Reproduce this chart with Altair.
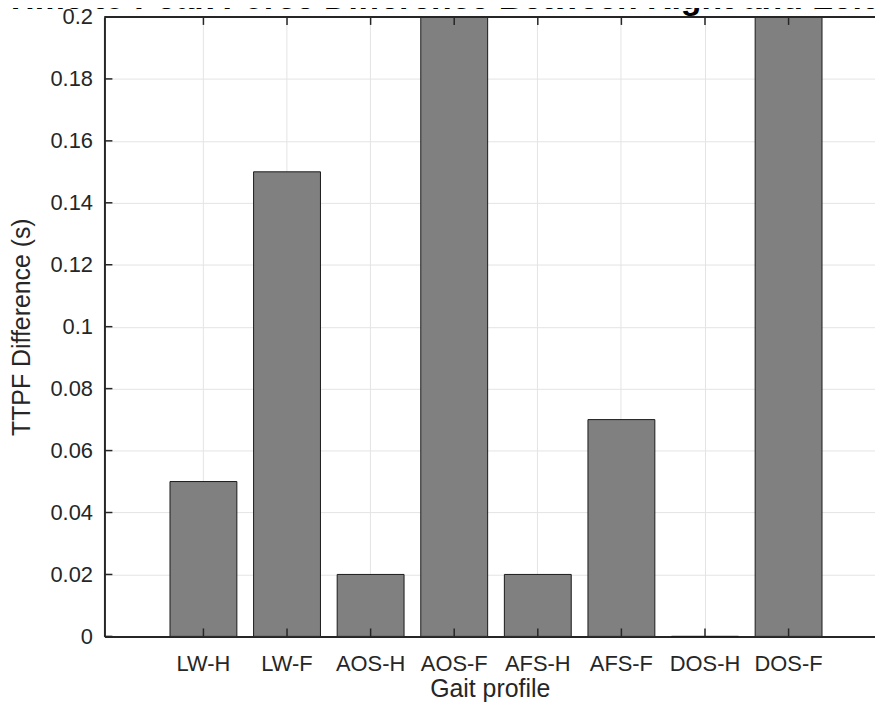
import altair as alt
import pandas as pd

# ---- data ----
profiles = ["LW-H", "LW-F", "AOS-H", "AOS-F", "AFS-H", "AFS-F", "DOS-H", "DOS-F"]
ttpf_diff = [0.05, 0.15, 0.02, 0.25, 0.02, 0.07, 0.0, 0.25]  # AOS-F / DOS-F run past the 0.2 limit
y_ticks = [0, 0.02, 0.04, 0.06, 0.08, 0.1, 0.12, 0.14, 0.16, 0.18, 0.2]
title_text = "Time to Peak Force Difference Between Right and Left Limbs"

W, H = 775, 623
FONT = "Liberation Sans"
INK = "#262626"

df = pd.DataFrame({"profile": profiles, "diff": ttpf_diff})
df_yt = pd.DataFrame({"diff": y_ticks})
df_one = pd.DataFrame({"t": [title_text]})

xscale = alt.Scale(domain=profiles, paddingInner=0.2, paddingOuter=0.709, align=0.553)
yscale = alt.Scale(domain=[0, 0.2], nice=False, zero=True)

X = alt.X("profile:N", sort=profiles, scale=xscale,
          axis=alt.Axis(title="Gait profile", labelAngle=0, labelPadding=17, titlePadding=2))
Y = alt.Y("diff:Q", scale=yscale,
          axis=alt.Axis(values=y_ticks, format="~g", title="TTPF Difference (s)",
                        labelPadding=12, titlePadding=16))

bars = alt.Chart(df).mark_bar(clip=True, color="#808080", stroke="#1a1a1a", strokeWidth=1).encode(
    x=X, y=Y,
)

ytick_rules = alt.Chart(df_yt).mark_rule(color=INK, strokeWidth=1.5).encode(
    y=Y, x=alt.value(0), x2=alt.value(8),
)

xtick_bottom = alt.Chart(df).mark_rule(color=INK, strokeWidth=1.5).encode(
    x=X, y=alt.value(H), y2=alt.value(H - 8),
)
xtick_top = alt.Chart(df).mark_rule(color=INK, strokeWidth=1.5).encode(
    x=X, y=alt.value(0), y2=alt.value(8),
)

top_border = alt.Chart(df_one).mark_rule(color=INK, strokeWidth=2).encode(
    x=alt.value(0), x2=alt.value(W), y=alt.value(0),
)

title = alt.Chart(df_one).mark_text(
    font=FONT, fontSize=34, fontWeight="bold", color="#000000", align="center", baseline="alphabetic"
).encode(text="t:N", x=alt.value(392), y=alt.value(-8))

chart = alt.layer(bars, ytick_rules, xtick_bottom, xtick_top, top_border, title).properties(
    width=W, height=H,
    padding={"left": 97, "top": 7, "right": 0, "bottom": 70},
    autosize=alt.AutoSizeParams(type="none"),
).configure_view(stroke=None).configure_axis(
    labelFont=FONT, titleFont=FONT, labelFontSize=22, titleFontSize=25,
    labelColor=INK, titleColor=INK, titleFontWeight="normal",
    domainColor=INK, domainWidth=2, ticks=False,
    grid=True, gridColor="#e4e4e4", gridWidth=1,
)

chart.save("out.html", embed_options={"renderer": "svg", "actions": False})
